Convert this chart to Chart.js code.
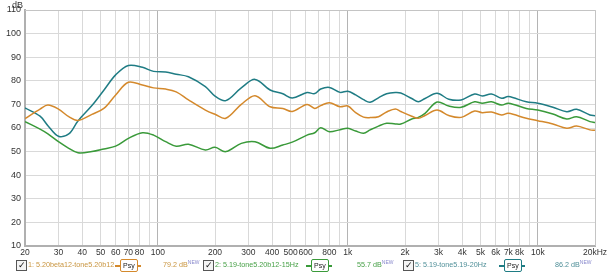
<!DOCTYPE html>
<html><head><meta charset="utf-8">
<script src="https://cdn.jsdelivr.net/npm/chart.js@4.4.1/dist/chart.umd.min.js"></script>
<style>
html,body{margin:0;padding:0;background:#fff;}
#wrap{position:relative;width:607px;height:275px;font-family:"Liberation Sans",Arial,sans-serif;}
canvas{position:absolute;left:0;top:0;}
.lg{position:absolute;top:260px;font-size:7.2px;white-space:nowrap;line-height:10px;}
.cb{position:absolute;top:260px;width:9px;height:9px;border:1px solid #555;background:#f4f4f4;font-size:9px;line-height:9px;text-align:center;color:#111;}
.psy{position:absolute;top:259px;height:11px;border:1.5px solid;border-radius:2px;font-size:7px;line-height:11px;padding:0 2px;color:#222;background:#fff;}
.ln{position:absolute;top:265px;height:1.5px;}
sup{font-size:5px;position:relative;top:-3px;vertical-align:baseline;line-height:0;color:#8888cc;}
#db{position:absolute;left:12px;top:0px;font-size:9px;color:#333;}
</style></head>
<body>
<div id="wrap">
<canvas id="c" width="607" height="275"></canvas>
<div id="db">dB</div>
<div id="legend"></div>
</div>
<script>
const freqs = [20,24,26.4,30,34,38,45,52,60,70,83,95,110,125,145,178,200,228,275,325,390,455,510,610,670,720,800,910,1000,1100,1210,1310,1450,1600,1780,1900,2170,2350,2550,2950,3400,3950,4650,5100,5700,6450,7000,8700,10000,12000,14200,16000,18800,20000];
const series1 = [64,68,69.7,68,64.8,63.2,65.8,68.3,74,79.4,78.2,77,76.5,75.3,71.9,67.6,65.8,64.1,70,73.7,69,68.3,67,70,68.3,69.5,70.7,69,69.3,66.5,64.6,64.4,64.8,66.8,68.1,67,65,64.1,65.3,67.6,65.3,64.5,67.2,66.5,66.8,65.5,66.2,64.1,63.1,61.7,59.9,60.8,59.2,59];
const series2 = [62.7,59.5,57.5,54.2,51.4,49.5,50,51.1,52.3,55.6,58,57,54.2,52.3,53.1,50.7,51.8,50,53.5,54.2,51.4,52.8,54,57,58,60.1,58.4,59.3,59.9,58.7,57.8,59.2,60.8,62,61.7,61.7,63.8,64.5,66.2,71,69.3,68.8,71.1,70.5,71.1,69.7,70.5,68.3,67.6,65.9,63.8,64.8,62.7,62.3];
const series5 = [68.5,65,61,56.5,57.5,63,69.5,76,82.5,86.5,85.7,84,83.7,82.8,81.7,77.5,73.5,71.6,77,80.6,76.1,74.5,72.7,75,74.6,76.5,77.2,75.1,75.6,74,72,70.9,72.8,74.5,75,74.8,72.5,71.1,72.5,74.7,72.2,71.9,74.4,73.6,74.4,72.6,73.3,71.1,70.5,68.8,66.9,67.9,65.5,65.2];
const seriesNames = ["1: 5.20beta12-tone5.20b12","2: 5.19-tone5.20b12-15Hz","5: 5.19-tone5.19-20Hz"];
const seriesLevels = ["79.2 dB","55.7 dB","86.2 dB"];
const xTicks = [20,30,40,50,60,70,80,90,100,200,300,400,500,600,700,800,900,1000,2000,3000,4000,5000,6000,7000,8000,9000,10000,20000];
const xTickLabels = ["20","30","40","50","60","70","80","","100","200","300","400","500","600","","800","","1k","2k","3k","4k","5k","6k","7k","8k","","10k","20kHz"];
const yTicks = [10,20,30,40,50,60,70,80,90,100,110];

const colors = ["#d4892c","#3a9a3a","#1f7c84"];
const textColors = ["#c9953f","#46a046","#4f8f98"];

function pts(vals){ return freqs.map((f,i)=>({x:f,y:vals[i]})); }
const allSeries=[series1,series2,series5];

new Chart(document.getElementById('c'),{
  type:'line',
  data:{datasets:allSeries.map((s,i)=>({data:pts(s),borderColor:colors[i],borderWidth:1.5,pointRadius:0,tension:0.35,fill:false}))},
  options:{
    responsive:false,animation:false,
    layout:{padding:{top:10,right:12,left:0,bottom:0}},
    plugins:{legend:{display:false},tooltip:{enabled:false}},
    scales:{
      x:{type:'logarithmic',min:20,max:20000,
        afterBuildTicks:(s)=>{s.ticks=xTicks.map(v=>({value:v}));},
        afterFit:(s)=>{s.height=29;s.paddingLeft=0;s.paddingRight=0;},
        ticks:{autoSkip:false,maxRotation:0,minRotation:0,padding:2,color:'#333',font:{family:'Liberation Sans',size:8.5},
          callback:(v,i)=>xTickLabels[i]},
        grid:{color:(c)=>{const v=c.tick&&c.tick.value;return (v===100||v===1000||v===10000)?'#b4b4b4':'#d9d9d9';},
          lineWidth:(c)=>{const v=c.tick&&c.tick.value;return (v===20)?2:1;},drawTicks:false},
        border:{color:'#b0b0b0',width:2}
      },
      y:{min:10,max:110,
        afterBuildTicks:(s)=>{s.ticks=yTicks.map(v=>({value:v}));},
        afterFit:(s)=>{s.width=25;},
        ticks:{padding:4,color:'#333',font:{family:'Liberation Sans',size:9}},
        grid:{color:'#d9d9d9',drawTicks:false},
        border:{color:'#b0b0b0',width:2}
      }
    }
  },
  plugins:[{id:'frame',afterDraw(ch){const a=ch.chartArea,c=ch.ctx;c.save();c.strokeStyle='#c4c4c4';c.lineWidth=1;c.beginPath();c.moveTo(a.left,a.top+0.5);c.lineTo(a.right+0.5,a.top+0.5);c.lineTo(a.right+0.5,a.bottom);c.stroke();c.restore();}}]
});

// legend
const lg=document.getElementById('legend');
const pos=[{cb:16,t:28,p:120,v:163},{cb:203,t:215,p:311,v:357},{cb:403,t:415,p:504,v:555}];
seriesNames.forEach((n,i)=>{
  const P=pos[i];
  lg.insertAdjacentHTML('beforeend',
   `<div class="cb" style="left:${P.cb}px">&#10003;</div>`+
   `<div class="lg" style="left:${P.t}px;color:${textColors[i]}">${n}</div>`+
   `<div class="ln" style="left:${P.p-5}px;width:${26}px;background:${colors[i]}"></div>`+
   `<div class="psy" style="left:${P.p}px;border-color:${colors[i]}">Psy</div>`+
   `<div class="lg" style="left:${P.v}px;color:${textColors[i]}">${seriesLevels[i]}<sup>NEW</sup></div>`);
});
</script>
</body></html>
